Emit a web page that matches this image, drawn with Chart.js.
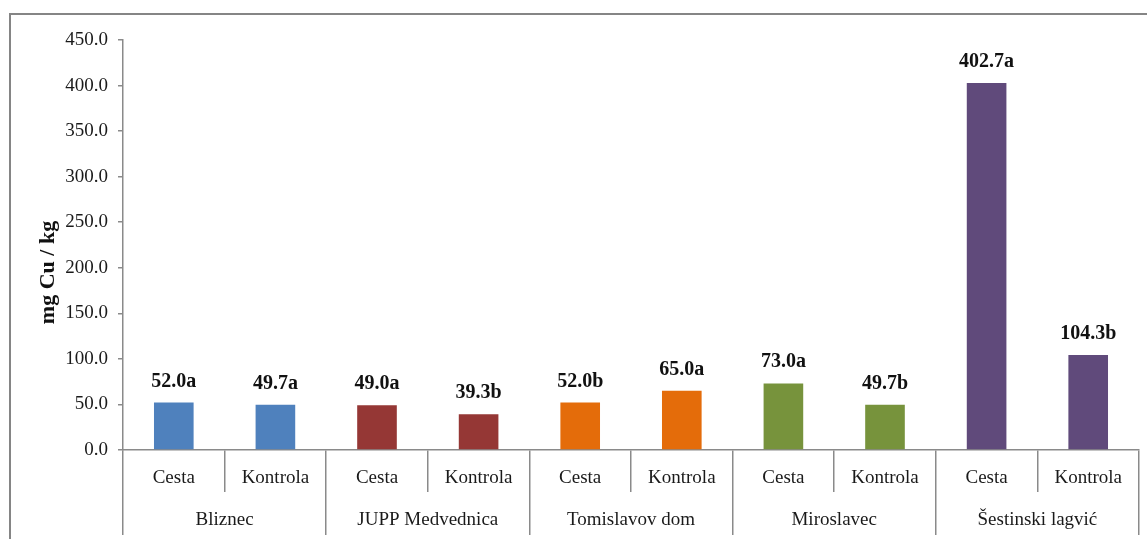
<!DOCTYPE html>
<html>
<head>
<meta charset="utf-8">
<script src="https://cdn.jsdelivr.net/npm/chart.js@4.4.1/dist/chart.umd.min.js"></script>
<style>
    html, body { margin: 0; padding: 0; background: #fff; overflow: hidden; }
    .frame { position: absolute; left: 9px; top: 13px; width: 1300px; height: 700px; border: 2px solid #858585; box-sizing: border-box; }
    .wrap { position: absolute; left: 0; top: 0; width: 1147px; height: 539px; }
</style>
</head>
<body>
<div class="frame"></div>
<div class="wrap"><canvas id="cu-chart"></canvas></div>
<script>
// data
const groups = ['Bliznec', 'JUPP Medvednica', 'Tomislavov dom', 'Miroslavec', 'Šestinski lagvić'];
const treatments = ['Cesta', 'Kontrola'];
const values = [52.0, 49.7, 49.0, 39.3, 52.0, 65.0, 73.0, 49.7, 402.7, 104.3];
const letters = ['a', 'a', 'a', 'b', 'b', 'a', 'a', 'b', 'a', 'b'];
const groupColors = ['#4F81BD', '#953735', '#E46C0A', '#77933C', '#604A7B'];
const yMin = 0, yMax = 450, yStep = 50;

const labels = [];
const barColors = [];
groups.forEach(function (g, gi) {
    treatments.forEach(function (t) {
        labels.push(t);
        barColors.push(groupColors[gi]);
    });
});

const serif = 'Liberation Serif';
const axisGray = '#8a8a8a';

// value + letter above each bar
const barLabels = {
    id: 'barLabels',
    afterDatasetsDraw(chart) {
        const ctx = chart.ctx;
        const meta = chart.getDatasetMeta(0);
        ctx.save();
        ctx.font = 'bold 20px "' + serif + '"';
        ctx.fillStyle = '#111';
        ctx.textAlign = 'center';
        ctx.textBaseline = 'alphabetic';
        meta.data.forEach(function (bar, i) {
            ctx.fillText(values[i].toFixed(1) + letters[i], bar.x, bar.y - 16);
        });
        ctx.restore();
    }
};

new Chart(document.getElementById('cu-chart'), {
    type: 'bar',
    data: {
        labels: labels,
        datasets: [{
            data: values,
            backgroundColor: barColors,
            borderWidth: 0,
            categoryPercentage: 1,
            barPercentage: 0.39
        }]
    },
    options: {
        responsive: true,
        maintainAspectRatio: false,
        animation: false,
        layout: { padding: { left: 10, right: 8, top: 40, bottom: 0 } },
        plugins: {
            legend: { display: false },
            tooltip: { enabled: false }
        },
        scales: {
            y: {
                min: yMin,
                max: yMax,
                ticks: {
                    stepSize: yStep,
                    padding: 10,
                    color: '#1a1a1a',
                    font: { family: serif, size: 19 },
                    callback: function (v) { return v.toFixed(1) }
                },
                grid: { drawOnChartArea: false, tickLength: 5, color: axisGray, lineWidth: 1.5 },
                border: { color: axisGray, width: 1.5 },
                title: {
                    display: true,
                    text: 'mg Cu / kg' + ' '.repeat(10),
                    color: '#111',
                    font: { family: serif, size: 22, weight: 'bold' },
                    padding: { top: 25, bottom: 0 }
                },
                afterFit: function (scale) { scale.width = 113 }
            },
            x: {
                weight: 0,
                ticks: {
                    padding: -25,
                    color: '#1a1a1a',
                    font: { family: serif, size: 19, lineHeight: 1.2 }
                },
                grid: { offset: true, drawOnChartArea: false, tickLength: 42, color: axisGray, lineWidth: 1.5 },
                border: { color: axisGray, width: 1.5 },
                afterFit: function (scale) { scale.height = 42 }
            },
            x2: {
                type: 'category',
                position: 'bottom',
                weight: 1,
                labels: groups,
                offset: true,
                ticks: {
                    padding: -26,
                    color: '#1a1a1a',
                    font: { family: serif, size: 19, lineHeight: 1.2 }
                },
                grid: { offset: true, drawOnChartArea: false, tickLength: 43, color: axisGray, lineWidth: 1.5 },
                border: { display: false },
                afterFit: function (scale) { scale.height = 47 }
            }
        }
    },
    plugins: [barLabels]
});
</script>
</body>
</html>
